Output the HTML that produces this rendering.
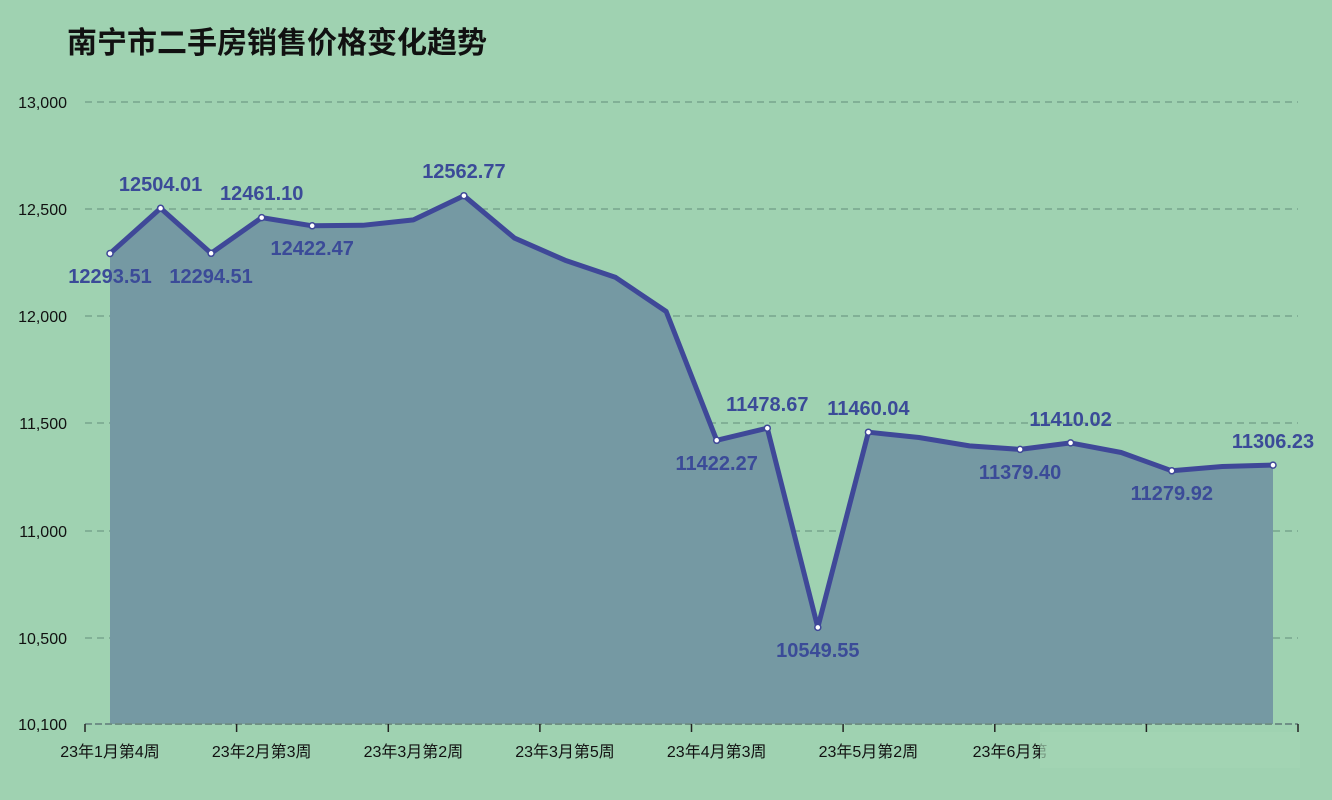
<!DOCTYPE html>
<html><head><meta charset="utf-8"><style>
html,body{margin:0;padding:0;background:#9fd2b1;}
svg{display:block;}
text{font-family:"Liberation Sans","Noto Sans CJK SC",sans-serif;}
</style></head><body>
<svg width="1332" height="800" viewBox="0 0 1332 800">
<rect width="1332" height="800" fill="#9fd2b1"/>
<text x="67" y="53" font-size="30" font-weight="bold" fill="#111">南宁市二手房销售价格变化趋势</text>
<g stroke="#6f9c87" stroke-width="1.2" stroke-dasharray="7,5">
<line x1="85" y1="102" x2="1298" y2="102"/>
<line x1="85" y1="209" x2="1298" y2="209"/>
<line x1="85" y1="316" x2="1298" y2="316"/>
<line x1="85" y1="423" x2="1298" y2="423"/>
<line x1="85" y1="531" x2="1298" y2="531"/>
<line x1="85" y1="638" x2="1298" y2="638"/>
</g>
<g font-size="16" fill="#111" text-anchor="end">
<text x="67" y="108">13,000</text>
<text x="67" y="215">12,500</text>
<text x="67" y="322">12,000</text>
<text x="67" y="429">11,500</text>
<text x="67" y="537">11,000</text>
<text x="67" y="644">10,500</text>
<text x="67" y="730">10,100</text>
</g>
<polygon fill="#7599a3" points="110,724 110,253.5 160.6,208.3 211.1,253.3 261.7,217.6 312.2,225.8 362.8,225.3 413.4,219.9 463.9,195.7 514.5,238.1 565,260.2 615.6,277.4 666.2,311.5 716.7,440.3 767.3,428.2 817.8,627.4 868.4,432.2 919,437.5 969.5,445.9 1020.1,449.4 1070.6,442.9 1121.2,452.5 1171.8,470.8 1222.3,466.5 1273,465.1 1273,724"/>
<line x1="85" y1="724" x2="1298" y2="724" stroke="#6f8f86" stroke-width="2" stroke-dasharray="7,3"/>
<g stroke="#222" stroke-width="1.5">
<line x1="85" y1="724" x2="85" y2="732"/><line x1="236.6" y1="724" x2="236.6" y2="732"/><line x1="388.3" y1="724" x2="388.3" y2="732"/><line x1="539.9" y1="724" x2="539.9" y2="732"/><line x1="691.5" y1="724" x2="691.5" y2="732"/><line x1="843.1" y1="724" x2="843.1" y2="732"/><line x1="994.8" y1="724" x2="994.8" y2="732"/><line x1="1146.4" y1="724" x2="1146.4" y2="732"/><line x1="1298" y1="724" x2="1298" y2="732"/>
</g>
<g font-size="16" fill="#111" text-anchor="middle">
<text x="110" y="757">23年1月第4周</text>
<text x="261.7" y="757">23年2月第3周</text>
<text x="413.4" y="757">23年3月第2周</text>
<text x="565" y="757">23年3月第5周</text>
<text x="716.7" y="757">23年4月第3周</text>
<text x="868.4" y="757">23年5月第2周</text>
<text x="1010" y="757">23年6月第</text>
</g>
<rect x="1040" y="732" width="260" height="36" fill="#a4d4b4" opacity="0.7"/>
<polyline fill="none" stroke="#3f4898" stroke-width="5" stroke-linejoin="round" stroke-linecap="round" points="110,253.5 160.6,208.3 211.1,253.3 261.7,217.6 312.2,225.8 362.8,225.3 413.4,219.9 463.9,195.7 514.5,238.1 565,260.2 615.6,277.4 666.2,311.5 716.7,440.3 767.3,428.2 817.8,627.4 868.4,432.2 919,437.5 969.5,445.9 1020.1,449.4 1070.6,442.9 1121.2,452.5 1171.8,470.8 1222.3,466.5 1273,465.1"/>
<g fill="#fff" stroke="#3f4898" stroke-width="1.5">
<circle cx="110" cy="253.5" r="3"/><circle cx="160.6" cy="208.3" r="3"/><circle cx="211.1" cy="253.3" r="3"/><circle cx="261.7" cy="217.6" r="3"/><circle cx="312.2" cy="225.8" r="3"/><circle cx="463.9" cy="195.7" r="3"/><circle cx="716.7" cy="440.3" r="3"/><circle cx="767.3" cy="428.2" r="3"/><circle cx="817.8" cy="627.4" r="3"/><circle cx="868.4" cy="432.2" r="3"/><circle cx="1020.1" cy="449.4" r="3"/><circle cx="1070.6" cy="442.9" r="3"/><circle cx="1171.8" cy="470.8" r="3"/><circle cx="1273" cy="465.1" r="3"/>
</g>
<g font-size="20" font-weight="bold" fill="#3b4b98" text-anchor="middle">
<text x="110" y="283">12293.51</text>
<text x="160.6" y="191">12504.01</text>
<text x="211.1" y="283">12294.51</text>
<text x="261.7" y="200">12461.10</text>
<text x="312.2" y="255">12422.47</text>
<text x="463.9" y="178">12562.77</text>
<text x="716.7" y="470">11422.27</text>
<text x="767.3" y="411">11478.67</text>
<text x="817.8" y="657">10549.55</text>
<text x="868.4" y="415">11460.04</text>
<text x="1020.1" y="479">11379.40</text>
<text x="1070.6" y="426">11410.02</text>
<text x="1171.8" y="500">11279.92</text>
<text x="1273" y="448">11306.23</text>
</g>
</svg>
</body></html>
